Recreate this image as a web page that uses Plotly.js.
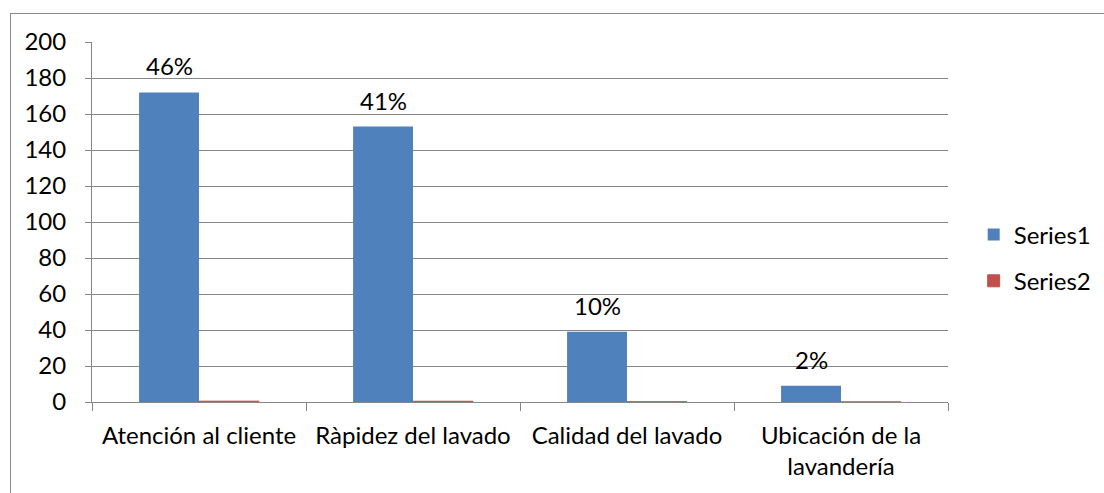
<!DOCTYPE html>
<html>
<head>
<meta charset="utf-8">
<script src="https://cdn.plot.ly/plotly-3.0.1.min.js"></script>
<style>
html,body{margin:0;padding:0;background:#fff;}
#wrap{position:relative;width:1104px;height:493px;}
#chart{position:absolute;left:0;top:0;width:1104px;height:493px;}
#frame{position:absolute;left:10px;top:13px;width:1110px;height:500px;border:1px solid #8a8a8a;pointer-events:none;box-sizing:border-box;}
</style>
</head>
<body>
<div id="wrap"><div id="chart"></div><div id="frame"></div></div>
<script>
const categories = ["Atención al cliente", "Ràpidez del lavado", "Calidad del lavado", "Ubicación de la<br>lavandería"];
const series1 = [172, 153, 39, 9];
const series2 = [0.46, 0.41, 0.10, 0.02];
const labels1 = ["46%", "41%", "10%", "2%"];
const yTicks = [0, 20, 40, 60, 80, 100, 120, 140, 160, 180, 200];

const FONT = "Lato, Open Sans, sans-serif";
const FS = 24;

const traces = [
  {type: "bar", name: "Series1", x: categories, y: series1, marker: {color: "#4F81BD"}, legendgroup: "a", hoverinfo: "skip"},
  {type: "bar", name: "Series2", x: categories, y: series2, marker: {color: "#C0504D", line: {color: "#C0504D", width: 1}}, legendgroup: "b", hoverinfo: "skip"}
];

const annotations = categories.map((c, i) => ({
  x: c, y: series1[i], xref: "x", yref: "y", text: labels1[i], showarrow: false,
  yanchor: "bottom", yshift: 10, xshift: -30, font: {family: FONT, size: FS, color: "#000"}
}));

const layout = {
  width: 1104, height: 493,
  margin: {l: 92, r: 156, t: 42, b: 91, pad: 0, autoexpand: false},
  paper_bgcolor: "#fff", plot_bgcolor: "#fff",
  font: {family: FONT, size: FS, color: "#000"},
  barmode: "group", bargap: 0.44, bargroupgap: 0,
  showlegend: true,
  legend: {x: 1.03, xanchor: "left", y: 0.4, yanchor: "middle", traceorder: "grouped", tracegroupgap: 12,
           font: {family: FONT, size: FS, color: "#000"}, itemwidth: 30, bgcolor: "rgba(0,0,0,0)"},
  xaxis: {type: "category", showgrid: false, showline: true, linecolor: "#868686", linewidth: 1,
          ticks: "outside", ticklen: 8, tickcolor: "#868686", tickson: "boundaries", automargin: false,
          tickfont: {family: FONT, size: FS, color: "#000"}, ticklabelstandoff: 12, fixedrange: true},
  yaxis: {range: [0, 200], tickvals: yTicks, showgrid: true, gridcolor: "#868686", gridwidth: 1, automargin: false,
          showline: true, linecolor: "#868686", linewidth: 1, ticks: "outside", ticklen: 6, tickcolor: "#868686",
          zeroline: false, tickfont: {family: FONT, size: FS, color: "#000"}, ticklabelstandoff: 14, fixedrange: true},
  annotations: annotations
};

Plotly.newPlot("chart", traces, layout, {staticPlot: true, displayModeBar: false});
</script>
</body>
</html>
